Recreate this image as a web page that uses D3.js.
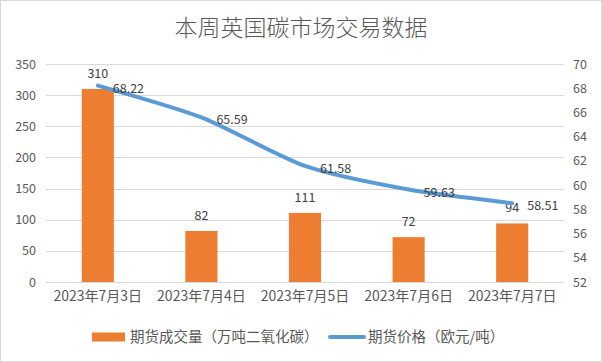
<!DOCTYPE html>
<html>
<head>
<meta charset="utf-8">
<script src="https://cdn.jsdelivr.net/npm/d3@7"></script>
<style>
  body { margin: 0; background: #fff; }
  text { font-family: "Noto Sans CJK SC", "DejaVu Sans", sans-serif; }
</style>
</head>
<body>
<div class="display"></div>
<script>
const dates = ['2023年7月3日', '2023年7月4日', '2023年7月5日', '2023年7月6日', '2023年7月7日'];
const volume = [310, 82, 111, 72, 94];
const price = [68.22, 65.59, 61.58, 59.63, 58.51];
const leftTicks = [0, 50, 100, 150, 200, 250, 300, 350];
const rightTicks = [52, 54, 56, 58, 60, 62, 64, 66, 68, 70];

const width = 602, height = 362;
const plot = { left: 46, right: 564, top: 64, bottom: 282 };
const textColor = '#595959';

const svg = d3.select('.display')
  .append('svg')
  .attr('width', width)
  .attr('height', height);

svg.append('rect')
  .attr('x', 0.5).attr('y', 0.5)
  .attr('width', width - 1).attr('height', height - 1)
  .attr('fill', '#fff')
  .attr('stroke', '#d9d9d9');

svg.append('text')
  .attr('x', width / 2)
  .attr('y', 36)
  .attr('text-anchor', 'middle')
  .attr('fill', textColor)
  .style('font-size', '23px')
  .style('font-weight', 300)
  .text('本周英国碳市场交易数据');

const x = d3.scaleBand()
  .domain(dates)
  .range([plot.left, plot.right]);

const yL = d3.scaleLinear().domain([0, 350]).range([plot.bottom, plot.top]);
const yR = d3.scaleLinear().domain([52, 70]).range([plot.bottom, plot.top]);

// gridlines
svg.append('g')
  .selectAll('line')
  .data(leftTicks)
  .enter()
  .append('line')
  .attr('x1', plot.left).attr('x2', plot.right)
  .attr('y1', d => Math.round(yL(d)) + 0.5)
  .attr('y2', d => Math.round(yL(d)) + 0.5)
  .attr('stroke', '#d9d9d9');

// left axis
const leftAxis = svg.append('g')
  .attr('transform', `translate(${plot.left}, 0)`)
  .call(d3.axisLeft(yL).tickValues(leftTicks).tickSize(0).tickPadding(10));
leftAxis.select('.domain').remove();
leftAxis.selectAll('text').attr('fill', textColor).style('font-size', '12.5px').style('font-family', 'Noto Sans CJK SC');

// right axis
const rightAxis = svg.append('g')
  .attr('transform', `translate(${plot.right}, 0)`)
  .call(d3.axisRight(yR).tickValues(rightTicks).tickSize(0).tickPadding(9));
rightAxis.select('.domain').remove();
rightAxis.selectAll('text').attr('fill', textColor).style('font-size', '12.5px').style('font-family', 'Noto Sans CJK SC');

// bottom axis
const bottomAxis = svg.append('g')
  .attr('transform', `translate(0, ${plot.bottom})`)
  .call(d3.axisBottom(x).tickSize(0).tickPadding(9));
bottomAxis.select('.domain').remove();
bottomAxis.selectAll('text').attr('fill', textColor).style('font-size', '14px').style('font-family', 'Noto Sans CJK SC');

// bars
const barW = x.bandwidth() * 0.31;
svg.append('g')
  .selectAll('rect')
  .data(volume)
  .enter()
  .append('rect')
  .attr('x', (d, i) => x(dates[i]) + x.bandwidth() / 2 - barW / 2)
  .attr('y', d => yL(d))
  .attr('width', barW)
  .attr('height', d => plot.bottom - yL(d))
  .attr('fill', '#ed7d31');

svg.append('g')
  .selectAll('text')
  .data(volume)
  .enter()
  .append('text')
  .attr('x', (d, i) => x(dates[i]) + x.bandwidth() / 2)
  .attr('y', d => yL(d) - 11)
  .attr('text-anchor', 'middle')
  .attr('fill', '#404040')
  .style('font-size', '12.5px')
  .text(d => d);

// line
const cx = i => x(dates[i]) + x.bandwidth() / 2;
svg.append('path')
  .datum(price)
  .attr('fill', 'none')
  .attr('stroke', '#5b9bd5')
  .attr('stroke-width', 4)
  .attr('stroke-linecap', 'round')
  .attr('d', d3.line()
    .x((d, i) => cx(i))
    .y(d => yR(d))
    .curve(d3.curveCardinal.tension(0.3)));

svg.append('g')
  .selectAll('text')
  .data(price)
  .enter()
  .append('text')
  .attr('x', (d, i) => cx(i) + 15)
  .attr('y', d => yR(d) + 7)
  .attr('fill', '#404040')
  .style('font-size', '12.5px')
  .text(d => d.toFixed(2));

// legend
const legend = svg.append('g').attr('transform', 'translate(0, 337)');
legend.append('rect')
  .attr('x', 92).attr('y', -4.5)
  .attr('width', 33).attr('height', 9)
  .attr('fill', '#ed7d31');
legend.append('text')
  .attr('x', 130).attr('y', 5)
  .attr('fill', textColor)
  .style('font-size', '14.5px')
  .text('期货成交量（万吨二氧化碳）');
legend.append('line')
  .attr('x1', 330).attr('x2', 364)
  .attr('stroke', '#5b9bd5')
  .attr('stroke-width', 4)
  .attr('stroke-linecap', 'round');
legend.append('text')
  .attr('x', 368).attr('y', 5)
  .attr('fill', textColor)
  .style('font-size', '14.5px')
  .text('期货价格（欧元/吨）');
</script>
</body>
</html>
